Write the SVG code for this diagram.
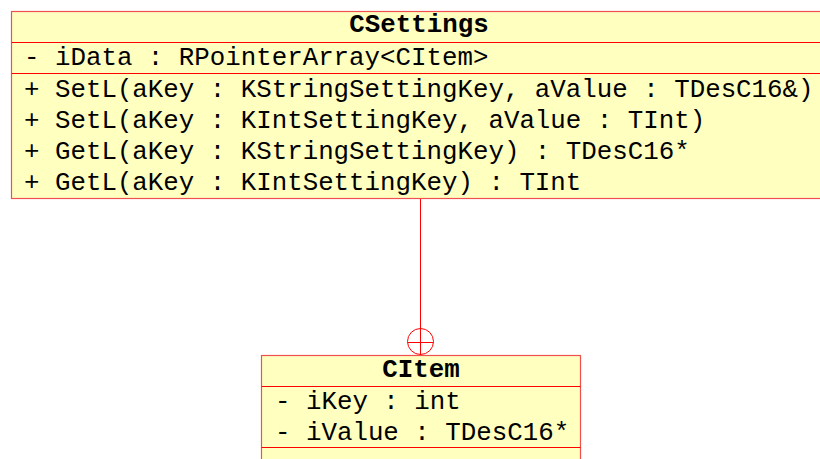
<svg xmlns="http://www.w3.org/2000/svg" width="820" height="459" viewBox="0 0 820 459">
  <style>
    .box { fill: #ffffc0; stroke: #f05050; stroke-width: 1.2; }
    .sep { stroke: #ff0000; stroke-width: 1; fill: none; }
    .edge { stroke: #ff0000; stroke-width: 1; fill: none; }
    .t { font-family: "Liberation Mono", "Courier New", monospace; font-size: 25.8px; fill: #000; }
    .title { font-weight: bold; text-anchor: middle; }
  </style>
  <rect x="0" y="0" width="820" height="459" fill="#ffffff"/>

  <g id="connectors">
    <line class="edge" x1="420.5" y1="198" x2="420.5" y2="355"/>
    <circle class="edge" cx="420.5" cy="341.5" r="13"/>
    <line class="edge" x1="407.5" y1="342.5" x2="433.5" y2="342.5"/>
  </g>

  <g id="CSettings">
    <rect class="box" x="11.5" y="11.5" width="816" height="187"/>
    <line class="sep" x1="11.5" y1="42.5" x2="827.5" y2="42.5"/>
    <line class="sep" x1="11.5" y1="73.5" x2="827.5" y2="73.5"/>
    <text class="t title" x="419" y="32">CSettings</text>
    <text class="t" x="24" y="65">- iData : RPointerArray&lt;CItem&gt;</text>
    <text class="t" x="24" y="96.5">+ SetL(aKey : KStringSettingKey, aValue : TDesC16&amp;)</text>
    <text class="t" x="24" y="127.5">+ SetL(aKey : KIntSettingKey, aValue : TInt)</text>
    <text class="t" x="24" y="158.5">+ GetL(aKey : KStringSettingKey) : TDesC16*</text>
    <text class="t" x="24" y="189.5">+ GetL(aKey : KIntSettingKey) : TInt</text>
  </g>

  <g id="CItem">
    <rect class="box" x="261.5" y="355.5" width="319" height="120"/>
    <line class="sep" x1="261.5" y1="386.5" x2="580.5" y2="386.5"/>
    <line class="sep" x1="261.5" y1="447.5" x2="580.5" y2="447.5"/>
    <text class="t title" x="421" y="377">CItem</text>
    <text class="t" x="275" y="409">- iKey : int</text>
    <text class="t" x="275" y="439.5">- iValue : TDesC16*</text>
  </g>
</svg>
